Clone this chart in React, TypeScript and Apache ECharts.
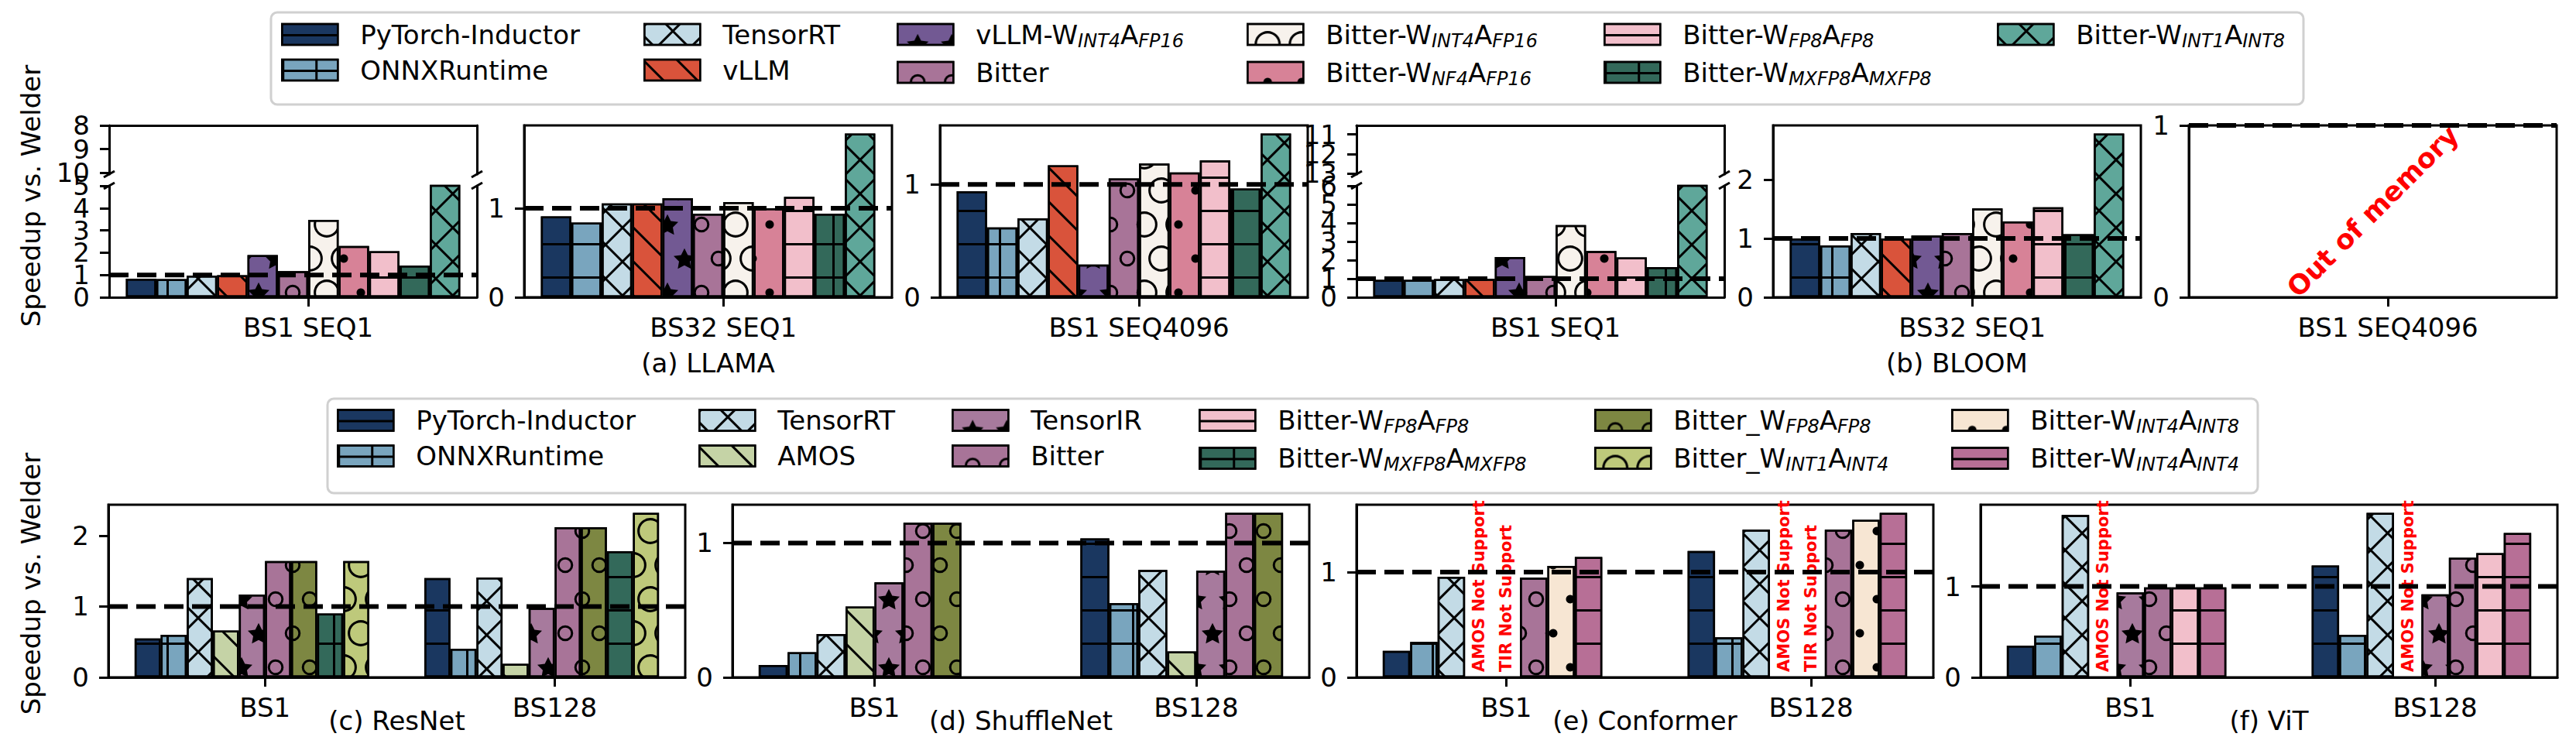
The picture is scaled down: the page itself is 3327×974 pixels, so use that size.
import React, { useEffect, useRef } from 'react';
import * as echarts from 'echarts';

// ---------------- DATA ----------------
const topMethods = [
  'PyTorch-Inductor', 'ONNXRuntime', 'TensorRT', 'vLLM', 'vLLM-W_{INT4}A_{FP16}', 'Bitter',
  'Bitter-W_{INT4}A_{FP16}', 'Bitter-W_{NF4}A_{FP16}', 'Bitter-W_{FP8}A_{FP8}', 'Bitter-W_{MXFP8}A_{MXFP8}', 'Bitter-W_{INT1}A_{INT8}',
];
// (a) LLAMA
const llamaBS1SEQ1 = [0.83, 0.82, 0.97, 0.99, 1.89, 1.17, 3.47, 2.30, 2.07, 1.42, 6.8];
const llamaBS32SEQ1 = [0.91, 0.84, 1.055, 1.055, 1.115, 0.94, 1.07, 1.0, 1.13, 0.94, 1.84];
const llamaBS1SEQ4096 = [0.94, 0.62, 0.70, 1.17, 0.29, 1.054, 1.186, 1.107, 1.213, 0.964, 1.451];
// (b) BLOOM
const bloomBS1SEQ1 = [0.94, 0.94, 0.98, 0.99, 2.17, 1.15, 3.89, 2.49, 2.15, 1.63, 9.3];
const bloomBS32SEQ1 = [1.0, 0.88, 1.09, 1.0, 1.05, 1.09, 1.51, 1.29, 1.53, 1.07, 2.78];
const bloomBS1SEQ4096: number[] = []; // out of memory

const topTickLabels = ['BS1 SEQ1', 'BS32 SEQ1', 'BS1 SEQ4096'];
const cnnTickLabels = ['BS1', 'BS128'];

const bottomLegendMethods = [
  'PyTorch-Inductor', 'ONNXRuntime', 'TensorRT', 'AMOS', 'TensorIR', 'Bitter',
  'Bitter-W_{FP8}A_{FP8}', 'Bitter-W_{MXFP8}A_{MXFP8}', 'Bitter_W_{FP8}A_{FP8}', 'Bitter_W_{INT1}A_{INT4}',
  'Bitter-W_{INT4}A_{INT8}', 'Bitter-W_{INT4}A_{INT4}',
];
// (c) ResNet
const resnetMethods = ['PyTorch-Inductor', 'ONNXRuntime', 'TensorRT', 'AMOS', 'TensorIR', 'Bitter', 'Bitter_W_{FP8}A_{FP8}', 'Bitter-W_{MXFP8}A_{MXFP8}', 'Bitter_W_{INT1}A_{INT4}'];
const resnetBS1 = [0.55, 0.60, 1.40, 0.66, 1.17, 1.64, 1.64, 0.90, 1.64];
const resnetBS128 = [1.40, 0.405, 1.41, 0.19, 0.98, 2.12, 2.12, 1.78, 2.32];
// (d) ShuffleNet
const shufflenetMethods = ['PyTorch-Inductor', 'ONNXRuntime', 'TensorRT', 'AMOS', 'TensorIR', 'Bitter', 'Bitter_W_{FP8}A_{FP8}'];
const shufflenetBS1 = [0.092, 0.187, 0.323, 0.528, 0.707, 1.151, 1.151];
const shufflenetBS128 = [1.034, 0.553, 0.80, 0.193, 0.794, 1.224, 1.224];
// (e) Conformer
const conformerMethods = ['PyTorch-Inductor', 'ONNXRuntime', 'TensorRT', 'AMOS', 'TensorIR', 'Bitter', 'Bitter-W_{INT4}A_{INT8}', 'Bitter-W_{INT4}A_{INT4}'];
const conformerBS1 = [0.252, 0.337, 0.956, null, null, 0.946, 1.059, 1.144];
const conformerBS128 = [1.20, 0.381, 1.403, null, null, 1.403, 1.496, 1.562];
// (f) ViT
const vitMethods = ['PyTorch-Inductor', 'ONNXRuntime', 'TensorRT', 'AMOS', 'TensorIR', 'Bitter', 'Bitter-W_{FP8}A_{FP8}', 'Bitter-W_{INT4}A_{INT4}'];
const vitBS1 = [0.35, 0.46, 1.785, null, 0.935, 0.99, 0.99, 0.99];
const vitBS128 = [1.23, 0.469, 1.808, null, 0.912, 1.316, 1.367, 1.588];

const notSupportText: Record<string, string> = { AMOS: 'AMOS Not Support', TensorIR: 'TIR Not Support' };
const baselineSpeedup = 1;

// ---------------- STYLES ----------------
const methodStyles: Record<string, { color: string; hatch: string }> = {
  'PyTorch-Inductor': { color: '#1a3760', hatch: '-' },
  'ONNXRuntime': { color: '#79a5be', hatch: '+' },
  'TensorRT': { color: '#c3dbe6', hatch: 'x' },
  'vLLM': { color: '#d9533b', hatch: '\\' },
  'vLLM-W_{INT4}A_{FP16}': { color: '#725993', hatch: '*' },
  'Bitter': { color: '#a87498', hatch: 'o' },
  'Bitter-W_{INT4}A_{FP16}': { color: '#f7f2ec', hatch: 'O' },
  'Bitter-W_{NF4}A_{FP16}': { color: '#d78297', hatch: '.' },
  'Bitter-W_{FP8}A_{FP8}': { color: '#f2bfcb', hatch: '-' },
  'Bitter-W_{MXFP8}A_{MXFP8}': { color: '#33695a', hatch: '+' },
  'Bitter-W_{INT1}A_{INT8}': { color: '#5fa79a', hatch: 'x' },
  'AMOS': { color: '#c5d3a6', hatch: '\\' },
  'TensorIR': { color: '#a77a9d', hatch: '*' },
  'Bitter_W_{FP8}A_{FP8}': { color: '#7d8742', hatch: 'o' },
  'Bitter_W_{INT1}A_{INT4}': { color: '#bec97b', hatch: 'O' },
  'Bitter-W_{INT4}A_{INT8}': { color: '#f7e6d3', hatch: '.' },
  'Bitter-W_{INT4}A_{INT4}': { color: '#b76f96', hatch: '-' },
};

const FF = 'DejaVu Sans';
const FS = 34;
const CELL = 44;
const LP = 43; // hatch line period
const HLW = 3;
const PHASE = 13;

const STAR = 'path://M10 0L12.94 5.96L19.51 6.91L14.76 11.55L15.88 18.09L10 15L4.12 18.09L5.24 11.55L0.49 6.91L7.06 5.96Z';
const ring = (ri: number) =>
  `path://M10 0A10 10 0 1 1 10 20A10 10 0 1 1 10 0ZM10 ${10 - ri}A${ri} ${ri} 0 1 0 10 ${10 + ri}A${ri} ${ri} 0 1 0 10 ${10 - ri}Z`;

function hLineDecal() {
  return {
    symbol: [['none'], ['rect']], symbolSize: 1, symbolKeepAspect: false, color: '#000',
    dashArrayX: [LP, 0], dashArrayY: [PHASE, 0, HLW, LP - PHASE - HLW],
  };
}
function diagLineDecal(rotation: number, spacing: number) {
  return {
    symbol: 'rect', symbolSize: 1, symbolKeepAspect: false, color: '#000',
    dashArrayX: [spacing, 0], dashArrayY: [HLW, spacing - HLW], rotation,
  };
}
function gridDecal(rotation: number, spacing: number, phase: number) {
  return {
    symbol: 'rect', symbolSize: 1, symbolKeepAspect: false, color: '#000',
    dashArrayX: [[HLW, spacing - HLW], [spacing, 0], [HLW, spacing - HLW]],
    dashArrayY: [phase, 0, HLW, 0, spacing - phase - HLW, 0],
    rotation,
  };
}
function shapeDecal(sym: string, D: number) {
  const c = 8;
  const h = CELL / 2;
  return {
    symbol: [['none'], [sym, 'none'], ['none'], ['none', sym]],
    symbolSize: D / c, symbolKeepAspect: true, color: '#000',
    dashArrayX: [c, h - c], dashArrayY: [c, h - c, c, h - c],
  };
}
function hatchDecal(h: string): any {
  switch (h) {
    case '-': return hLineDecal();
    case '+': return gridDecal(0, LP, PHASE);
    case 'x': return gridDecal(Math.PI / 4, 31, 10);
    case '\\': return diagLineDecal(Math.PI / 4, 31);
    case '*': return shapeDecal(STAR, 28);
    case 'o': return shapeDecal(ring(7.1), 20.6);
    case 'O': return shapeDecal(ring(8.2), 33.8);
    case '.': return shapeDecal('circle', 11);
  }
  return undefined;
}

// ---------------- LAYOUT ----------------
const TOP_Y = 162, TOP_H = 222, TOP_W = 475;
const TOP_LEFTS = [141, 677, 1214, 1752, 2290, 2827];
const UPPER_H = 63, LOWER_TOP = 240;
const BOT_Y = 652, BOT_H = 223, BOT_W = 745;
const BOT_LEFTS = [140, 946, 1752, 2558];
const BAR_W = 0.09;

function richName(name: string) {
  const parts = name.split(/_\{([^}]*)\}/);
  let out = '';
  parts.forEach((p, i) => {
    if (!p) return;
    if (i % 2 === 1) out += `{s|${p}}`;
    else out += i === 0 ? `{f|${p}}` : `{n|${p}}`;
  });
  return out;
}

function buildOption() {
  const grid: any[] = [], xAxis: any[] = [], yAxis: any[] = [], series: any[] = [], graphic: any[] = [], legend: any[] = [];
  const axisLine = { show: true, onZero: false, lineStyle: { color: '#000', width: 3 } };
  const tick = { show: true, length: 12, inside: false, lineStyle: { color: '#000', width: 3 } };
  const lbl = { color: '#000', fontSize: FS, fontFamily: FF, showMinLabel: true, showMaxLabel: true, hideOverlap: false };
  const noAxisDeco = { axisTick: { show: false }, axisLabel: { show: false }, splitLine: { show: false } };

  const addGrid = (left: number, top: number, width: number, height: number, border: boolean) => {
    grid.push({ left, top, width, height, show: border, borderColor: '#000', borderWidth: 3, backgroundColor: 'transparent', containLabel: false, outerBoundsMode: 'none' });
    return grid.length - 1;
  };
  // left y axis; labels split over two stacked axes (even / odd ticks) so none is dropped for crowding
  const addLeftY = (gi: number, min: number, max: number, ticks: number[], inverse: boolean) => {
    const even = ticks.filter((_, i) => i % 2 === 0);
    const odd = ticks.filter((_, i) => i % 2 === 1);
    const idx = yAxis.push({
      gridIndex: gi, type: 'value', min, max, inverse, position: 'left', axisLine,
      axisTick: { ...tick, customValues: ticks },
      axisLabel: { ...lbl, margin: 25, customValues: even },
      splitLine: { show: false },
    }) - 1;
    if (odd.length) {
      yAxis.push({
        gridIndex: gi, type: 'value', min, max, inverse, position: 'left', offset: 0,
        axisLine: { show: false }, axisTick: { show: false },
        axisLabel: { ...lbl, margin: 25, customValues: odd },
        splitLine: { show: false },
      });
    }
    return idx;
  };

  const addPanel = (p: any, left: number, top: number, width: number, height: number) => {
    const nSlots = p.methods.length;
    const nCat = p.values.length;
    const half = (nSlots * BAR_W) / 2;
    const span = nCat - 1 + 2 * half;
    const xMin = -half - 0.05 * span;
    const xMax = nCat - 1 + half + 0.05 * span;
    const barPx = (BAR_W * width) / (xMax - xMin);
    const tickVals = p.labels.map((_: string, i: number) => i + BAR_W / 2);
    const fmt = (v: number) => p.labels[Math.round(v - BAR_W / 2)] ?? '';

    const allVals: number[] = [];
    p.values.forEach((arr: any[]) => arr.forEach((v) => { if (typeof v === 'number') allVals.push(v); }));
    const yMax = p.broken ? p.broken.lowerMax : p.yMax ?? 1.05 * Math.max(...allVals);
    const yTicks: number[] = [];
    for (let t = 0; t <= yMax + 1e-9; t++) yTicks.push(t);

    const mainTop = p.broken ? LOWER_TOP : top;
    const mainH = p.broken ? top + height - LOWER_TOP : height;
    const gi = addGrid(left, mainTop, width, mainH, !p.broken);
    const xi = xAxis.push({
      gridIndex: gi, type: 'value', min: xMin, max: xMax, position: 'bottom', axisLine,
      axisTick: { ...tick, customValues: tickVals },
      axisLabel: { ...lbl, margin: 22, customValues: tickVals, formatter: fmt },
      splitLine: { show: false },
    }) - 1;
    const yi = addLeftY(gi, 0, yMax, yTicks, false);
    if (p.broken) {
      yAxis.push({ gridIndex: gi, type: 'value', min: 0, max: 1, position: 'right', axisLine, ...noAxisDeco });
      const ugi = addGrid(left, top, width, UPPER_H, false);
      xAxis.push({ gridIndex: ugi, type: 'value', min: 0, max: 1, position: 'top', axisLine, ...noAxisDeco });
      addLeftY(ugi, p.broken.upper[0], p.broken.upper[1], p.broken.upperTicks, true);
      yAxis.push({ gridIndex: ugi, type: 'value', min: 0, max: 1, position: 'right', axisLine, ...noAxisDeco });
      [top + UPPER_H, LOWER_TOP].forEach((y) => {
        [left, left + width].forEach((x) => {
          graphic.push({ type: 'line', shape: { x1: x - 7, y1: y + 4, x2: x + 7, y2: y - 4 }, style: { stroke: '#000', lineWidth: 3 } });
        });
      });
    }

    p.methods.forEach((m: string, mi: number) => {
      const vals = p.values.map((arr: any[]) => arr[mi]);
      if (vals.every((v: any) => v === undefined)) return;
      const st = methodStyles[m];
      const ns = notSupportText[m] && vals.every((v: any) => v == null);
      if (ns) {
        series.push({
          type: 'bar', name: m, xAxisIndex: xi, yAxisIndex: yi, barWidth: barPx, barGap: '0%', silent: true,
          data: vals.map((_: any, ci: number) => [ci, 0]),
          itemStyle: { color: 'rgba(0,0,0,0)', borderWidth: 0 },
          label: {
            show: true, position: 'insideBottom', rotate: 90, align: 'left', verticalAlign: 'middle', distance: 7,
            formatter: notSupportText[m], color: '#ff0000', fontWeight: 'bold', fontSize: 21, fontFamily: FF,
          },
        });
        return;
      }
      series.push({
        type: 'bar', name: m, xAxisIndex: xi, yAxisIndex: yi, barWidth: barPx, barGap: '0%', silent: true, clip: true,
        data: vals.map((v: any, ci: number) => [ci, v]),
        itemStyle: { color: st.color, borderColor: '#000', borderWidth: 2.5, decal: hatchDecal(st.hatch) },
      });
    });
    series.push({
      type: 'line', xAxisIndex: xi, yAxisIndex: yi, silent: true, symbol: 'none', z: 5,
      data: [[xMin, baselineSpeedup], [xMax, baselineSpeedup]],
      lineStyle: { color: '#000', width: 6, type: [25, 11] },
    });
  };

  const topPanels = [
    { methods: topMethods, values: [llamaBS1SEQ1], labels: [topTickLabels[0]], broken: { lowerMax: 5, upper: [8, 10.05], upperTicks: [8, 9, 10] } },
    { methods: topMethods, values: [llamaBS32SEQ1], labels: [topTickLabels[1]] },
    { methods: topMethods, values: [llamaBS1SEQ4096], labels: [topTickLabels[2]] },
    { methods: topMethods, values: [bloomBS1SEQ1], labels: [topTickLabels[0]], broken: { lowerMax: 6, upper: [10.54, 13.03], upperTicks: [11, 12, 13] } },
    { methods: topMethods, values: [bloomBS32SEQ1], labels: [topTickLabels[1]] },
    { methods: topMethods, values: [bloomBS1SEQ4096], labels: [topTickLabels[2]], yMax: 1 },
  ];
  const bottomPanels = [
    { methods: resnetMethods, values: [resnetBS1, resnetBS128], labels: cnnTickLabels },
    { methods: shufflenetMethods, values: [shufflenetBS1, shufflenetBS128], labels: cnnTickLabels },
    { methods: conformerMethods, values: [conformerBS1, conformerBS128], labels: cnnTickLabels },
    { methods: vitMethods, values: [vitBS1, vitBS128], labels: cnnTickLabels },
  ];
  topPanels.forEach((p, i) => addPanel(p, TOP_LEFTS[i], TOP_Y, TOP_W, TOP_H));
  bottomPanels.forEach((p, i) => addPanel(p, BOT_LEFTS[i], BOT_Y, BOT_W, BOT_H));

  // legends
  const rich = {
    f: { fontSize: FS, lineHeight: 40, padding: [0, 0, 0, 24], fontFamily: FF, color: '#000' },
    n: { fontSize: FS, lineHeight: 40, fontFamily: FF, color: '#000' },
    s: { fontSize: 24, lineHeight: 22, fontStyle: 'italic', verticalAlign: 'bottom', fontFamily: FF, color: '#000' },
  };
  const addLegendCols = (methods: string[], lefts: number[], top: number) => {
    lefts.forEach((lx, c) => {
      legend.push({
        left: lx, top, orient: 'vertical', padding: 0, itemGap: 12, itemWidth: 72, itemHeight: 27, icon: 'rect',
        selectedMode: false, data: methods.slice(c * 2, c * 2 + 2), formatter: (n: string) => richName(n),
        textStyle: { fontSize: FS, fontFamily: FF, color: '#000', rich },
        itemStyle: { borderColor: '#000', borderWidth: 2.5 },
      });
    });
  };
  graphic.push({ type: 'rect', z: 0, shape: { x: 350, y: 16, width: 2625, height: 119, r: 8 }, style: { fill: '#fff', stroke: '#d0d0d0', lineWidth: 3 } });
  graphic.push({ type: 'rect', z: 0, shape: { x: 423, y: 515, width: 2493, height: 122, r: 8 }, style: { fill: '#fff', stroke: '#d0d0d0', lineWidth: 3 } });
  addLegendCols(topMethods, [363, 831, 1158, 1610, 2071, 2579], 27.5);
  addLegendCols(bottomLegendMethods, [435, 902, 1229, 1548, 2059, 2520], 526);

  const txt = (text: string, x: number, y: number, extra: any = {}) => ({
    type: 'text', x, y, rotation: extra.rotation || 0,
    style: {
      text, fill: extra.fill || '#000', fontSize: extra.fontSize || FS, fontFamily: FF, fontWeight: extra.fontWeight || 'normal',
      align: 'center', verticalAlign: 'middle', textAlign: 'center', textVerticalAlign: 'middle',
    },
  });
  graphic.push(txt('(a) LLAMA', TOP_LEFTS[1] + TOP_W / 2, 469));
  graphic.push(txt('(b) BLOOM', TOP_LEFTS[4] + TOP_W / 2, 469));
  ['(c) ResNet', '(d) ShuffleNet', '(e) Conformer', '(f) ViT'].forEach((t, i) => graphic.push(txt(t, BOT_LEFTS[i] + BOT_W / 2, 931)));
  graphic.push(txt('Speedup vs. Welder', 40, 253, { rotation: Math.PI / 2 }));
  graphic.push(txt('Speedup vs. Welder', 40, 754, { rotation: Math.PI / 2 }));
  graphic.push(txt('Out of memory', TOP_LEFTS[5] + TOP_W / 2, TOP_Y + TOP_H / 2, { rotation: Math.PI / 4, fill: '#ff0000', fontWeight: 'bold', fontSize: 35 }));

  return {
    animation: false,
    backgroundColor: '#ffffff',
    textStyle: { fontFamily: FF },
    grid, xAxis, yAxis, series, legend,
    graphic: { elements: graphic },
  };
}

export default function App() {
  const ref = useRef<HTMLDivElement>(null);
  useEffect(() => {
    const chart = echarts.init(ref.current as HTMLDivElement, null, { renderer: 'svg', width: 3327, height: 974 });
    chart.setOption(buildOption() as any);
    return () => chart.dispose();
  }, []);
  return <div ref={ref} style={{ position: 'fixed', left: 0, top: 0, width: 3327, height: 974, background: '#fff' }} />;
}
